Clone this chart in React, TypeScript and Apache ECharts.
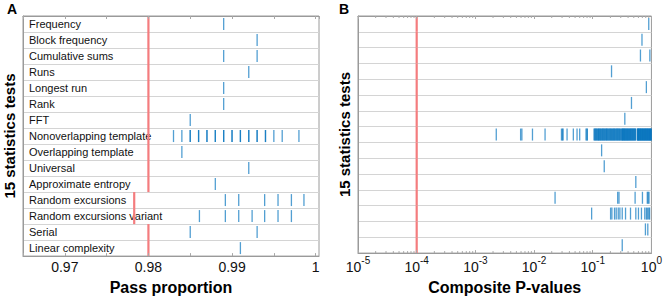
import React, { useEffect, useRef } from 'react';
import * as echarts from 'echarts';

const tests: string[] = [
  'Frequency',
  'Block frequency',
  'Cumulative sums',
  'Runs',
  'Longest run',
  'Rank',
  'FFT',
  'Nonoverlapping template',
  'Overlapping template',
  'Universal',
  'Approximate entropy',
  'Random excursions',
  'Random excursions variant',
  'Serial',
  'Linear complexity',
];

// Panel A: pass proportions per test
const passProportion: number[][] = [
  [0.989],
  [0.993],
  [0.989, 0.993],
  [0.992],
  [0.989],
  [0.989],
  [0.985],
  [0.983, 0.984, 0.985, 0.985, 0.986, 0.986, 0.987, 0.987, 0.988, 0.988, 0.989, 0.989, 0.99, 0.99,
    0.991, 0.991, 0.992, 0.992, 0.993, 0.993, 0.994, 0.994, 0.995, 0.996, 0.998],
  [0.984],
  [0.992],
  [0.988],
  [0.9892, 0.9908, 0.9939, 0.9955, 0.9971, 0.9986],
  [0.9861, 0.9892, 0.9908, 0.9924, 0.9939, 0.9955, 0.9971],
  [0.985, 0.993],
  [0.991],
];

// Minimum pass rate per test
const passThreshold: number[] = [
  0.98, 0.98, 0.98, 0.98, 0.98, 0.98, 0.98, 0.98, 0.98, 0.98, 0.98, 0.9783, 0.9783, 0.98, 0.98,
];

const passTickValues: number[] = [0.97, 0.98, 0.99, 1.0];
const passTickLabels: string[] = ['0.97', '0.98', '0.99', '1'];

// Panel B: composite P-values per test
const compositePValues: number[][] = [
  [0.9],
  [0.69],
  [0.65, 0.94],
  [0.209],
  [0.82],
  [0.457],
  [0.352],
  [0.00227, 0.0059, 0.0062, 0.0094, 0.0154, 0.0293, 0.0305, 0.0312, 0.0365, 0.0467, 0.054, 0.0599,
    0.0768, 0.0795, 0.081,
    0.105, 0.108, 0.11, 0.113, 0.115, 0.118, 0.121, 0.124, 0.126, 0.129, 0.132, 0.135, 0.138, 0.141,
    0.145, 0.148, 0.151, 0.155, 0.158, 0.162, 0.166, 0.17, 0.173, 0.177, 0.181, 0.186, 0.19, 0.195,
    0.199, 0.204, 0.208, 0.213, 0.218, 0.223, 0.228, 0.233, 0.238, 0.244, 0.25, 0.256, 0.261, 0.267,
    0.273, 0.28, 0.286, 0.292, 0.298,
    0.31, 0.315, 0.32, 0.326, 0.331, 0.337, 0.343, 0.349, 0.355, 0.362, 0.369, 0.376, 0.383, 0.39,
    0.397, 0.405, 0.413, 0.421, 0.429, 0.437, 0.445, 0.454, 0.463, 0.472, 0.481, 0.49, 0.5, 0.51,
    0.52, 0.53, 0.539,
    0.575, 0.582, 0.59, 0.599, 0.607, 0.616, 0.625, 0.636, 0.645, 0.656, 0.666, 0.677, 0.689, 0.7,
    0.711, 0.723, 0.735, 0.747, 0.759, 0.771, 0.784, 0.797, 0.81, 0.823, 0.837, 0.85, 0.864, 0.878,
    0.893, 0.907, 0.922, 0.937, 0.952, 0.967, 0.982, 0.995],
  [0.1416],
  [0.157],
  [0.542],
  [0.0228, 0.266, 0.28, 0.527, 0.703, 0.85, 0.88, 0.91],
  [0.0957, 0.2014, 0.212, 0.235, 0.251, 0.272, 0.29, 0.318, 0.362, 0.44, 0.542, 0.601, 0.676, 0.77,
    0.82, 0.855, 0.9, 0.93],
  [0.79, 0.867],
  [0.318],
];

const pValueThreshold = 1e-4;
const pExponents: number[] = [-5, -4, -3, -2, -1, 0];

const BLUE = '#0072BD';
const RED = '#F47C7E';
const FONT = '"Liberation Sans", Arial, Helvetica, sans-serif';
const GRID_LINE = '#d4d4d4';
const FRAME = '#9a9a9a';
const TICK = '#a8a8a8';

function thresholdRender(params: any, api: any) {
  const c = api.coord([api.value(0), api.value(1)]);
  const h = api.size([0, 1])[1];
  return {
    type: 'line',
    shape: { x1: c[0], y1: c[1] - h / 2, x2: c[0], y2: c[1] + h / 2 },
    style: { stroke: RED, lineWidth: 2.2 },
  };
}

function minorTickRender(params: any, api: any) {
  const x = api.coord([api.value(0), 0])[0];
  const cs = params.coordSys;
  return {
    type: 'group',
    children: [
      { type: 'line', shape: { x1: x, y1: cs.y, x2: x, y2: cs.y + 2 }, style: { stroke: TICK, lineWidth: 1 } },
      {
        type: 'line',
        shape: { x1: x, y1: cs.y + cs.height, x2: x, y2: cs.y + cs.height - 2 },
        style: { stroke: TICK, lineWidth: 1 },
      },
    ],
  };
}

export default function App() {
  const ref = useRef<HTMLDivElement>(null);

  useEffect(() => {
    if (!ref.current) return;
    const chart = echarts.init(ref.current, undefined, { renderer: 'svg' });

    const minorTicks: number[][] = [];
    for (let e = -5; e < 0; e++) {
      for (let k = 2; k <= 9; k++) minorTicks.push([k * Math.pow(10, e), 0]);
    }

    const passData = passProportion.flatMap((vals, row) => vals.map((v) => [v, row]));
    const pData = compositePValues.flatMap((vals, row) => vals.map((v) => [v, row]));

    const yCommon = (gridIndex: number, showLabels: boolean) => ({
      type: 'category',
      gridIndex,
      data: tests,
      inverse: true,
      name: '15 statistics tests',
      nameLocation: 'middle',
      nameRotate: 90,
      nameGap: 6,
      nameTextStyle: { fontSize: 15, fontWeight: 'bold', color: '#000', fontFamily: FONT },
      axisLine: { show: true, lineStyle: { color: FRAME } },
      axisTick: { show: false },
      axisLabel: {
        show: showLabels,
        inside: true,
        margin: 6,
        fontSize: 11,
        color: '#111',
        fontFamily: FONT,
      },
      splitLine: { show: true, interval: 0, lineStyle: { color: GRID_LINE, width: 1 } },
    });

    const passLabel = (v: number) => {
      const i = passTickValues.findIndex((t) => Math.abs(t - v) < 1e-9);
      return i >= 0 ? passTickLabels[i] : '';
    };

    const pLabel = (v: number) => {
      const e = Math.round(Math.log10(v));
      const i = pExponents.indexOf(e);
      return i >= 0 ? '{b|10}{s|' + pExponents[i] + '}' : '';
    };

    const option: any = {
      animation: false,
      textStyle: { fontFamily: FONT },
      title: [
        { text: 'A', left: 7, top: 2, padding: 0, textStyle: { fontSize: 14, fontWeight: 'bold', color: '#000', fontFamily: FONT } },
        { text: 'B', left: 339, top: 2, padding: 0, textStyle: { fontSize: 14, fontWeight: 'bold', color: '#000', fontFamily: FONT } },
      ],
      grid: [
        { left: 23, top: 16, width: 296, height: 246, show: true, borderColor: FRAME, borderWidth: 1 },
        { left: 358, top: 16, width: 297, height: 246, show: true, borderColor: FRAME, borderWidth: 1 },
      ],
      xAxis: [
        {
          type: 'value',
          gridIndex: 0,
          min: 0.965,
          max: 1.0004,
          interval: 0.005,
          z: 5,
          name: 'Pass proportion',
          nameLocation: 'middle',
          nameGap: 21,
          nameTextStyle: { fontSize: 16, fontWeight: 'bold', color: '#000', fontFamily: FONT },
          axisLine: { show: true, lineStyle: { color: FRAME } },
          axisTick: { show: true, inside: true, length: 3, lineStyle: { color: TICK } },
          axisLabel: { formatter: passLabel, fontSize: 14, color: '#111', margin: 4, showMaxLabel: false, fontFamily: FONT },
          splitLine: { show: false },
        },
        {
          type: 'value',
          gridIndex: 0,
          position: 'top',
          min: 0.965,
          max: 1.0004,
          interval: 0.005,
          z: 5,
          axisLine: { show: true, lineStyle: { color: FRAME } },
          axisTick: { show: true, inside: true, length: 3, lineStyle: { color: TICK } },
          axisLabel: { show: false },
          splitLine: { show: false },
        },
        {
          type: 'log',
          logBase: 10,
          gridIndex: 1,
          min: 1e-5,
          max: 1,
          splitNumber: 5,
          z: 5,
          name: 'Composite P-values',
          nameLocation: 'middle',
          nameGap: 21,
          nameTextStyle: { fontSize: 16, fontWeight: 'bold', color: '#000', fontFamily: FONT },
          axisLine: { show: true, lineStyle: { color: FRAME } },
          axisTick: { show: true, inside: true, length: 3, lineStyle: { color: TICK } },
          axisLabel: {
            formatter: pLabel,
            margin: 2,
            color: '#111',
            fontFamily: FONT,
            rich: {
              b: { fontSize: 14, color: '#111', fontFamily: FONT, verticalAlign: 'bottom', lineHeight: 19 },
              s: { fontSize: 10, color: '#111', fontFamily: FONT, verticalAlign: 'top', lineHeight: 10 },
            },
          },
          splitLine: { show: false },
        },
        {
          type: 'log',
          logBase: 10,
          gridIndex: 1,
          position: 'top',
          min: 1e-5,
          max: 1,
          splitNumber: 5,
          z: 5,
          axisLine: { show: true, lineStyle: { color: FRAME } },
          axisTick: { show: true, inside: true, length: 3, lineStyle: { color: TICK } },
          axisLabel: { show: false },
          splitLine: { show: false },
        },
      ],
      yAxis: [yCommon(0, true), yCommon(1, false)],
      series: [
        {
          type: 'scatter',
          xAxisIndex: 0,
          yAxisIndex: 0,
          symbol: 'rect',
          symbolSize: [1.3, 12],
          itemStyle: { color: BLUE, opacity: 0.68 },
          data: passData,
          z: 3,
        },
        {
          type: 'custom',
          xAxisIndex: 0,
          yAxisIndex: 0,
          renderItem: thresholdRender,
          data: passThreshold.map((t, row) => [t, row]),
          z: 4,
          clip: false,
        },
        {
          type: 'scatter',
          xAxisIndex: 2,
          yAxisIndex: 1,
          symbol: 'rect',
          symbolSize: [1.3, 12],
          itemStyle: { color: BLUE, opacity: 0.68 },
          data: pData,
          z: 3,
        },
        {
          type: 'custom',
          xAxisIndex: 2,
          yAxisIndex: 1,
          renderItem: thresholdRender,
          data: tests.map((_, row) => [pValueThreshold, row]),
          z: 4,
          clip: false,
        },
        {
          type: 'custom',
          xAxisIndex: 2,
          yAxisIndex: 1,
          renderItem: minorTickRender,
          data: minorTicks,
          z: 6,
          clip: false,
          silent: true,
        },
      ],
    };

    chart.setOption(option);
    return () => chart.dispose();
  }, []);

  return (
    <div
      ref={ref}
      style={{ position: 'fixed', left: 0, top: 0, width: 665, height: 300, background: '#fff' }}
    />
  );
}
